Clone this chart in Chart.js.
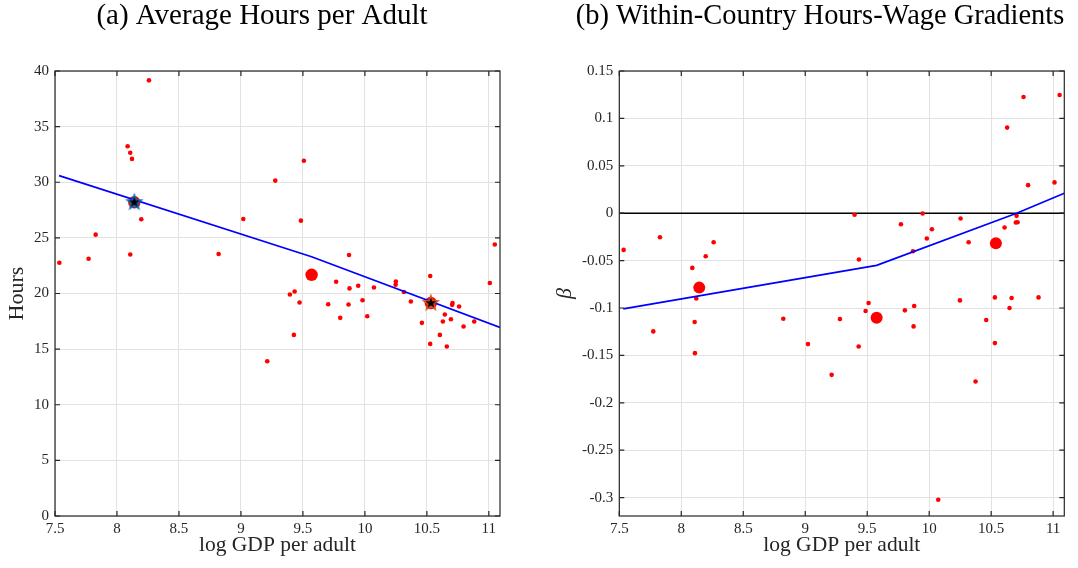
<!DOCTYPE html>
<html>
<head>
<meta charset="utf-8">
<script src="https://cdn.jsdelivr.net/npm/chart.js@4.4.1/dist/chart.umd.min.js"></script>
<style>
  html, body { margin: 0; padding: 0; background: #fff; }
  #wrap { position: relative; width: 1078px; height: 568px; }
  .panel { position: absolute; top: 0; width: 539px; height: 568px; }
</style>
</head>
<body>
<div id="wrap">
  <div class="panel" style="left:0"><canvas id="hoursChart" width="539" height="568"></canvas></div>
  <div class="panel" style="left:539px"><canvas id="betaChart" width="539" height="568"></canvas></div>
</div>
<script>
// ---- data ----
const xTicks = [7.5, 8, 8.5, 9, 9.5, 10, 10.5, 11];
const hoursTicks = [0, 5, 10, 15, 20, 25, 30, 35, 40];
const betaTicks = [-0.3, -0.25, -0.2, -0.15, -0.1, -0.05, 0, 0.05, 0.1, 0.15];

// panel (a): countries, log GDP per adult vs hours
const hoursX = [7.535, 8.258, 8.086, 8.107, 8.121, 8.196, 7.828, 7.771, 8.107, 8.82, 9.019,
  9.508, 9.277, 9.484, 9.872, 9.768, 9.876, 9.946, 10.073, 9.395, 9.433, 9.473, 9.704, 9.868,
  9.981, 9.801, 10.019, 9.427, 9.212, 10.25, 10.248, 10.315, 10.371, 10.527, 10.46, 10.527,
  10.605, 10.661, 10.645, 10.629, 10.694, 10.707, 10.704, 10.76, 10.796, 10.882, 11.008, 11.048];
const hoursY = [22.77, 39.16, 33.24, 32.65, 32.10, 26.67, 25.29, 23.13, 23.51, 23.55, 26.70,
  31.93, 30.15, 26.55, 23.46, 21.05, 20.46, 20.70, 20.54, 19.91, 20.18, 19.19, 19.04, 19.01,
  19.40, 17.81, 17.96, 16.28, 13.91, 21.08, 20.78, 20.13, 19.28, 21.57, 17.36, 15.47,
  16.28, 15.23, 18.11, 17.48, 17.69, 19.14, 18.98, 18.83, 17.03, 17.48, 20.94, 24.41];
const hoursBigX = [8.14, 9.57, 10.532];
const hoursBigY = [28.2, 21.68, 19.14];
const hoursFitX = [7.533, 9.57, 11.09];
const hoursFitY = [30.6, 23.3, 16.95];
const starLowX = [8.14], starLowY = [28.2];
const starHighX = [10.532], starHighY = [19.14];

// panel (b): within-country hours-wage gradients
const betaX = [7.535, 7.828, 8.261, 8.197, 8.089, 8.121, 7.774, 8.108, 8.11, 8.823, 9.022,
  10.761, 11.052, 10.629, 10.798, 11.011, 9.398, 9.947, 10.253, 9.772, 10.022, 9.981, 10.318,
  10.608, 10.705, 10.699, 10.713, 9.869, 9.433, 9.511, 9.487, 9.28, 9.804, 9.879, 9.874,
  10.248, 10.53, 10.665, 10.648, 10.882, 10.46, 10.53, 9.431, 9.213, 10.374, 10.073];
const betaY = [-0.0387, -0.0254, -0.0307, -0.0454, -0.0577, -0.0899, -0.1247, -0.1148, -0.1476, -0.1113, -0.1381,
  0.1226, 0.1247, 0.0903, 0.0296, 0.0325, -0.0017, -0.0003, -0.0056, -0.0116, -0.0169, -0.0267, -0.0307,
  -0.0151, -0.0028, -0.0098, -0.0095, -0.0402, -0.0489, -0.0947, -0.1032, -0.1117, -0.1025, -0.0979, -0.1194,
  -0.092, -0.0888, -0.0895, -0.1, -0.0888, -0.1127, -0.137, -0.1406, -0.1705, -0.1776, -0.3023];
const betaBigX = [8.145, 9.576, 10.538];
const betaBigY = [-0.0785, -0.1103, -0.0317];
const betaFitX = [7.532, 9.576, 10.705, 11.09];
const betaFitY = [-0.101, -0.055, 0.0, 0.0211];
const zeroX = [7.5, 11.09], zeroY = [0, 0];

// ---- styling ----
const SERIF = '"Liberation Serif", "Times New Roman", serif';
const AXIS = '#262626';
const GRID = '#e2e2e2';
const RED = '#ff0000';
const TICK = 5;

const pts = (xs, ys) => xs.map((x, i) => ({ x, y: ys[i] }));
const fmt = v => String(+Number(v).toFixed(2));

function starImage(edge) {
  const c = document.createElement('canvas');
  c.width = c.height = 20;
  const g = c.getContext('2d');
  g.beginPath();
  for (let i = 0; i < 10; i++) {
    const r = i % 2 ? 3.1 : 7.8;
    const a = -Math.PI / 2 + i * Math.PI / 5;
    g.lineTo(10 + r * Math.cos(a), 10 + r * Math.sin(a));
  }
  g.closePath();
  g.fillStyle = '#000';
  g.fill();
  g.strokeStyle = edge;
  g.lineWidth = 1.3;
  g.stroke();
  return c;
}

// MATLAB-style box with inward ticks on all four sides
const boxPlugin = {
  id: 'box',
  afterDraw(chart) {
    const { ctx, chartArea: a, scales: { x, y } } = chart;
    ctx.save();
    ctx.strokeStyle = AXIS;
    ctx.lineWidth = 1.2;
    ctx.strokeRect(a.left, a.top, a.right - a.left, a.bottom - a.top);
    ctx.beginPath();
    x.ticks.forEach(t => {
      const px = x.getPixelForValue(t.value);
      ctx.moveTo(px, a.bottom); ctx.lineTo(px, a.bottom - TICK);
      ctx.moveTo(px, a.top); ctx.lineTo(px, a.top + TICK);
    });
    y.ticks.forEach(t => {
      const py = y.getPixelForValue(t.value);
      ctx.moveTo(a.left, py); ctx.lineTo(a.left + TICK, py);
      ctx.moveTo(a.right, py); ctx.lineTo(a.right - TICK, py);
    });
    ctx.stroke();
    ctx.restore();
  }
};

const scatter = (data, r, extra) => Object.assign({
  data, showLine: false, pointRadius: r, pointHoverRadius: r,
  pointBackgroundColor: RED, pointBorderWidth: 0, borderWidth: 0
}, extra);

const line = (data, color, w) => ({
  data, showLine: true, pointRadius: 0, pointHoverRadius: 0,
  borderColor: color, borderWidth: w, fill: false
});

// chart area is pinned: left edge = padLeft + yWidth, right = 539 - padRight, top 71, bottom 516
function makePanel(id, o) {
  return new Chart(document.getElementById(id), {
    type: 'scatter',
    data: { datasets: o.datasets },
    plugins: [boxPlugin],
    options: {
      responsive: false, animation: false,
      layout: { padding: { left: o.padLeft, right: o.padRight, top: 0, bottom: 0 } },
      plugins: {
        legend: { display: false },
        tooltip: { enabled: false },
        title: {
          display: true, text: o.title, color: '#000', fullSize: true,
          font: { family: SERIF, size: 29, weight: 'normal', lineHeight: 1.1 },
          padding: { top: 0, bottom: 39.1 }
        }
      },
      scales: {
        x: {
          type: 'linear', min: 7.5, max: 11.09,
          afterBuildTicks: s => { s.ticks = xTicks.map(v => ({ value: v })); },
          afterFit: s => { s.height = 52; },
          grid: { color: GRID, drawTicks: false },
          border: { display: false },
          ticks: { font: { family: SERIF, size: 15 }, color: AXIS, padding: 4, maxRotation: 0, autoSkip: false, callback: fmt },
          title: { display: true, text: 'log GDP per adult', color: AXIS,
            font: { family: SERIF, size: 21.5, lineHeight: 1.2 }, padding: { top: 0, bottom: 9.5 } }
        },
        y: {
          type: 'linear', min: o.yMin, max: o.yMax,
          afterBuildTicks: s => { s.ticks = o.yTicks.map(v => ({ value: v })); },
          afterFit: s => { s.width = o.yWidth; },
          grid: { color: GRID, drawTicks: false },
          border: { display: false },
          ticks: { font: { family: SERIF, size: 15 }, color: AXIS, padding: 6, autoSkip: false, callback: fmt },
          title: { display: true, text: o.yLabel, color: AXIS,
            font: { family: SERIF, size: 22, style: o.yStyle || 'normal', lineHeight: 1.2 }, padding: { top: o.yTitlePad } }
        }
      }
    }
  });
}

makePanel('hoursChart', {
  title: '(a) Average Hours per Adult',
  yLabel: 'Hours', yMin: 0, yMax: 40, yTicks: hoursTicks,
  padLeft: 24, yWidth: 31, padRight: 39, yTitlePad: -20,
  datasets: [
    scatter(pts(starHighX, starHighY), 10, { pointStyle: starImage('#D95319') }),
    scatter(pts(starLowX, starLowY), 10, { pointStyle: starImage('#0072BD') }),
    line(pts(hoursFitX, hoursFitY), '#0000ff', 1.7),
    scatter(pts(hoursBigX, hoursBigY), 6.2),
    scatter(pts(hoursX, hoursY), 2.3)
  ]
});

makePanel('betaChart', {
  title: '(b) Within-Country Hours-Wage Gradients',
  yLabel: 'β', yStyle: 'italic', yMin: -0.3194, yMax: 0.15, yTicks: betaTicks,
  padLeft: 36.7, yWidth: 43.6, padRight: 13.7, yTitlePad: -24,
  datasets: [
    line(pts(betaFitX, betaFitY), '#0000ff', 1.7),
    scatter(pts(betaBigX, betaBigY), 6),
    scatter(pts(betaX, betaY), 2.3),
    line(pts(zeroX, zeroY), '#000000', 1.6)
  ]
});
</script>
</body>
</html>
